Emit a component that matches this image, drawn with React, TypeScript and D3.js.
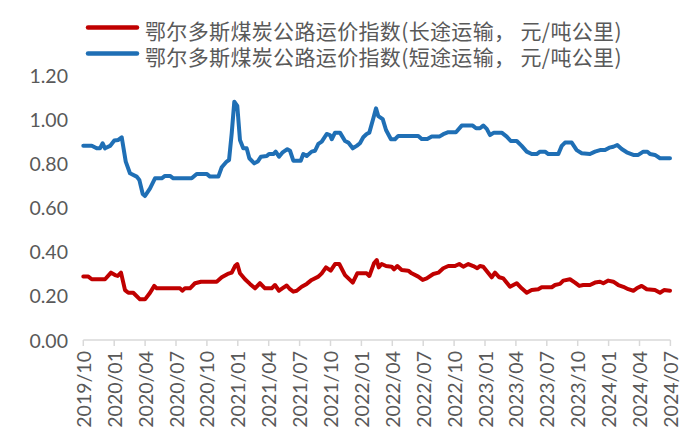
import React from "react";
import * as d3 from "d3";

// Months since 2019/10 (x) and index values
const shortT = [0, 0.82, 1.3, 1.62, 1.88, 2.11, 2.6, 3.01, 3.4, 3.73, 4.12, 4.53, 5.18, 5.44, 5.77, 5.99, 6.48, 6.96, 7.61, 7.93, 8.42, 8.74, 10.52, 11.01, 11.98, 12.3, 13.11, 13.44, 13.92, 14.15, 14.41, 14.66, 14.95, 15.21, 15.53, 15.86, 16.12, 16.6, 16.93, 17.25, 17.81, 18.03, 18.45, 18.68, 19.0, 19.32, 19.81, 20.07, 20.39, 21.11, 21.36, 21.69, 22.17, 22.5, 22.82, 23.15, 23.63, 23.95, 24.12, 24.44, 24.92, 25.41, 25.73, 26.16, 26.54, 26.86, 27.18, 27.51, 27.77, 28.16, 28.42, 28.64, 29.07, 29.39, 29.87, 30.26, 30.58, 32.52, 32.85, 33.4, 33.83, 34.56, 34.95, 35.44, 36.18, 36.74, 37.81, 38.13, 38.51, 38.83, 39.17, 39.49, 39.87, 40.62, 41.11, 41.5, 42.08, 42.56, 43.05, 43.53, 44.02, 44.34, 44.83, 45.15, 46.12, 46.45, 46.77, 47.42, 47.9, 48.39, 49.19, 49.68, 50.17, 50.65, 51.07, 51.46, 51.84, 52.27, 52.76, 53.4, 53.88, 54.37, 54.76, 55.02, 55.5, 55.99, 56.96];
const shortV = [0.88, 0.88, 0.868, 0.868, 0.891, 0.868, 0.879, 0.903, 0.906, 0.918, 0.808, 0.755, 0.74, 0.725, 0.661, 0.652, 0.687, 0.732, 0.732, 0.743, 0.743, 0.732, 0.732, 0.752, 0.752, 0.74, 0.74, 0.782, 0.808, 0.815, 0.936, 1.079, 1.06, 0.906, 0.868, 0.868, 0.823, 0.8, 0.808, 0.83, 0.833, 0.842, 0.842, 0.853, 0.83, 0.848, 0.864, 0.857, 0.812, 0.812, 0.842, 0.833, 0.853, 0.857, 0.888, 0.898, 0.933, 0.928, 0.909, 0.939, 0.939, 0.901, 0.894, 0.868, 0.879, 0.891, 0.918, 0.933, 0.939, 1.004, 1.049, 1.014, 1.0, 0.951, 0.909, 0.909, 0.924, 0.924, 0.91, 0.91, 0.921, 0.921, 0.932, 0.941, 0.941, 0.971, 0.971, 0.959, 0.959, 0.971, 0.956, 0.928, 0.939, 0.939, 0.921, 0.901, 0.901, 0.879, 0.853, 0.842, 0.842, 0.853, 0.853, 0.842, 0.842, 0.879, 0.894, 0.894, 0.86, 0.846, 0.842, 0.853, 0.86, 0.86, 0.871, 0.875, 0.883, 0.865, 0.85, 0.838, 0.838, 0.853, 0.853, 0.842, 0.838, 0.823, 0.823];

const longT = [0, 0.49, 0.82, 2.11, 2.69, 3.08, 3.34, 3.66, 4.05, 4.37, 4.85, 5.5, 5.99, 6.48, 6.89, 7.13, 9.39, 9.61, 9.87, 10.36, 10.84, 11.43, 12.95, 13.44, 14.02, 14.41, 14.73, 14.95, 15.21, 15.7, 16.18, 16.67, 17.15, 17.64, 18.29, 18.61, 19.0, 19.32, 19.75, 20.07, 20.39, 20.72, 21.2, 21.69, 22.17, 22.82, 23.15, 23.56, 24.02, 24.44, 24.85, 25.41, 25.89, 26.16, 26.6, 27.51, 27.77, 28.22, 28.49, 28.68, 28.97, 29.39, 29.94, 30.17, 30.49, 30.91, 31.55, 31.88, 32.52, 32.95, 33.34, 33.98, 34.47, 34.95, 35.44, 36.09, 36.5, 36.89, 37.38, 37.86, 38.25, 38.51, 38.83, 39.22, 39.65, 39.97, 40.39, 40.78, 41.43, 42.08, 42.56, 43.05, 43.53, 44.17, 44.5, 45.48, 45.8, 46.28, 46.6, 47.25, 47.74, 48.16, 48.54, 49.19, 49.68, 50.17, 50.49, 50.97, 51.46, 51.94, 52.43, 52.91, 53.4, 53.73, 54.21, 54.7, 55.5, 55.99, 56.38, 56.96];
const longV = [0.287, 0.287, 0.275, 0.275, 0.305, 0.294, 0.29, 0.305, 0.226, 0.214, 0.214, 0.184, 0.184, 0.214, 0.245, 0.234, 0.234, 0.223, 0.234, 0.234, 0.257, 0.264, 0.264, 0.284, 0.299, 0.305, 0.335, 0.344, 0.302, 0.275, 0.254, 0.234, 0.257, 0.234, 0.234, 0.249, 0.223, 0.234, 0.247, 0.23, 0.219, 0.223, 0.241, 0.254, 0.272, 0.287, 0.302, 0.329, 0.314, 0.344, 0.344, 0.294, 0.272, 0.26, 0.302, 0.302, 0.29, 0.347, 0.362, 0.329, 0.344, 0.335, 0.332, 0.32, 0.335, 0.317, 0.314, 0.302, 0.287, 0.272, 0.279, 0.299, 0.305, 0.325, 0.335, 0.335, 0.344, 0.332, 0.344, 0.335, 0.325, 0.335, 0.332, 0.309, 0.284, 0.305, 0.284, 0.279, 0.241, 0.257, 0.234, 0.214, 0.226, 0.23, 0.239, 0.239, 0.249, 0.254, 0.269, 0.275, 0.26, 0.245, 0.249, 0.249, 0.26, 0.264, 0.257, 0.269, 0.264, 0.249, 0.241, 0.23, 0.223, 0.234, 0.245, 0.23, 0.226, 0.214, 0.226, 0.223];

const xTickLabels = ["2019/10", "2020/01", "2020/04", "2020/07", "2020/10", "2021/01", "2021/04", "2021/07", "2021/10", "2022/01", "2022/04", "2022/07", "2022/10", "2023/01", "2023/04", "2023/07", "2023/10", "2024/01", "2024/04", "2024/07"];
const yTicks = [0, 0.2, 0.4, 0.6, 0.8, 1.0, 1.2];
const seriesNames = ["鄂尔多斯煤炭公路运价指数(长途运输， 元/吨公里)", "鄂尔多斯煤炭公路运价指数(短途运输， 元/吨公里)"];
const seriesColors = ["#C00000", "#1F6FB5"];

export default function App() {
  const x = d3.scaleLinear().domain([0, 57]).range([83.3, 670.4]);
  const y = d3.scaleLinear().domain([0, 1.2]).range([340, 75]);
  const line = d3
    .line<[number, number]>()
    .x((d) => x(d[0]))
    .y((d) => y(d[1]));
  const longData = longT.map((t, i) => [t, longV[i]] as [number, number]);
  const shortData = shortT.map((t, i) => [t, shortV[i]] as [number, number]);
  const tickPos = xTickLabels.map((_, i) => i * 3);
  const labelFont = "Lato, 'Open Sans', sans-serif";
  const gray = "#595959";

  return (
    <svg width={700} height={444} style={{ position: "absolute", left: 0, top: 0, background: "#fff" }}>
      {/* legend */}
      {seriesNames.map((name, i) => (
        <line key={name} x1={88} x2={137} y1={27.5 + i * 26} y2={27.5 + i * 26} stroke={seriesColors[i]} strokeWidth={4.5} strokeLinecap="round" />
      ))}
      <text fontFamily="'Noto Sans CJK SC', sans-serif" fontSize={21} letterSpacing={0.35} fill={gray}>
        {seriesNames.map((name, i) => (
          <tspan key={name} x={145} y={29.5 + i * 26} dominantBaseline="central">
            {name}
          </tspan>
        ))}
      </text>
      {/* y labels */}
      {yTicks.map((v) => (
        <text key={v} x={68} y={y(v)} textAnchor="end" dominantBaseline="central" fontFamily={labelFont} fontSize={19.5} fill={gray}>
          {v.toFixed(2)}
        </text>
      ))}
      {/* x axis */}
      <line x1={x(0)} x2={x(57)} y1={y(0)} y2={y(0)} stroke="#d9d9d9" strokeWidth={1.5} />
      {tickPos.map((t, i) => (
        <g key={t}>
          <line x1={x(t)} x2={x(t)} y1={y(0)} y2={y(0) + 6} stroke="#d9d9d9" strokeWidth={1.5} />
          <text
            transform={`translate(${x(t)},${y(0) + 11}) rotate(-90)`}
            textAnchor="end"
            dominantBaseline="central"
            fontFamily={labelFont}
            fontSize={19.5}
            fill={gray}
          >
            {xTickLabels[i]}
          </text>
        </g>
      ))}
      {/* series */}
      <path d={line(longData) || ""} fill="none" stroke={seriesColors[0]} strokeWidth={4} strokeLinejoin="round" strokeLinecap="round" />
      <path d={line(shortData) || ""} fill="none" stroke={seriesColors[1]} strokeWidth={4} strokeLinejoin="round" strokeLinecap="round" />
    </svg>
  );
}
